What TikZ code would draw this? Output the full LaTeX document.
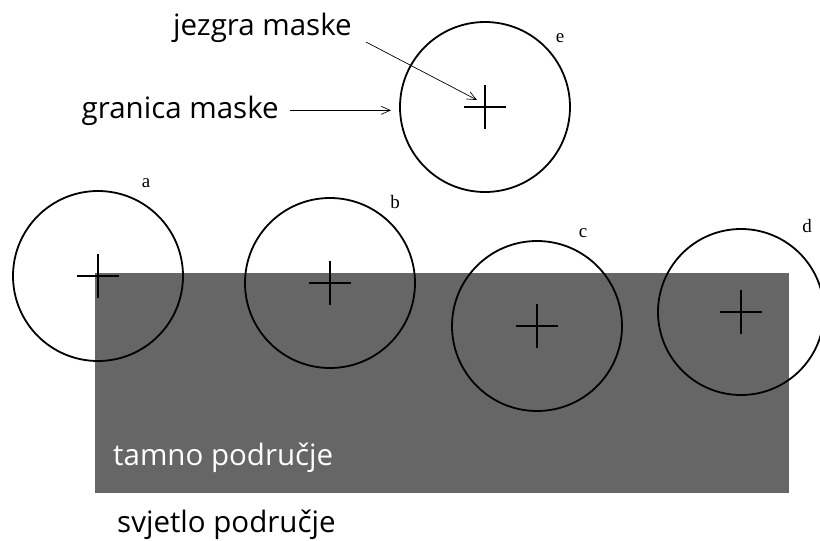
\documentclass[tikz,border=0pt]{standalone}
\usepackage{fontspec}
\setmainfont{Open Sans}
\newfontfamily\letterfont{Liberation Serif}
\usetikzlibrary{arrows.meta}
\tikzset{mask/.style={circle, draw, line width=1.8pt, minimum size=170pt, inner sep=0pt},
  cross/.style={line width=2.4pt},
  pointer/.style={line width=0.7pt, -{Straight Barb[length=9pt,width=8pt]}},
  label/.style={inner sep=0pt, font=\fontsize{29.5}{34}\selectfont},
  tag/.style={inner sep=0pt, font=\letterfont\fontsize{19}{21}\selectfont}}
\newcommand{\maskcross}[1]{\draw [cross] ([xshift=-21pt]#1.center) -- ([xshift=21pt]#1.center)
  ([yshift=-22pt]#1.center) -- ([yshift=22pt]#1.center);}

\begin{document}
\begin{tikzpicture}[x=1pt, y=-1pt]
  \useasboundingbox (0, 0) rectangle (820, 541);

  % dark region
  \fill [black!60] (95, 273) rectangle (789, 493);
  \node [label, anchor=base west, text=white] (dark) at (113, 465) {tamno područje};
  \node [label, anchor=base west] (light) at (117, 532) {svjetlo područje};

  % masks
  \node [mask] (a) at (98, 276) {};
  \node [mask] (b) at (330, 283) {};
  \node [mask] (c) at (537, 326) {};
  \node [mask, minimum size=166pt] (d) at (741, 312) {};
  \node [mask] (e) at (485, 107) {};
  \maskcross{a}
  \maskcross{b}
  \maskcross{c}
  \maskcross{d}
  \maskcross{e}

  \node [tag] (ta) at (146, 183) {a};
  \node [tag] (tb) at (395, 202) {b};
  \node [tag] (tc) at (583, 233) {c};
  \node [tag] (td) at (807, 226) {d};
  \node [tag] (te) at (560, 38) {e};

  % annotations
  \node [label, anchor=base west] (jezgra) at (173, 35) {jezgra maske};
  \node [label, anchor=base east] (granica) at (279, 118) {granica maske};
  \draw [pointer, shorten <=11pt, shorten >=8pt] (granica.east) -- (granica.east -| e.west);
  \draw [pointer] ([xshift=14pt,yshift=-7pt]jezgra.base east) -- ([xshift=-8pt,yshift=7pt]e.center);
\end{tikzpicture}
\end{document}
